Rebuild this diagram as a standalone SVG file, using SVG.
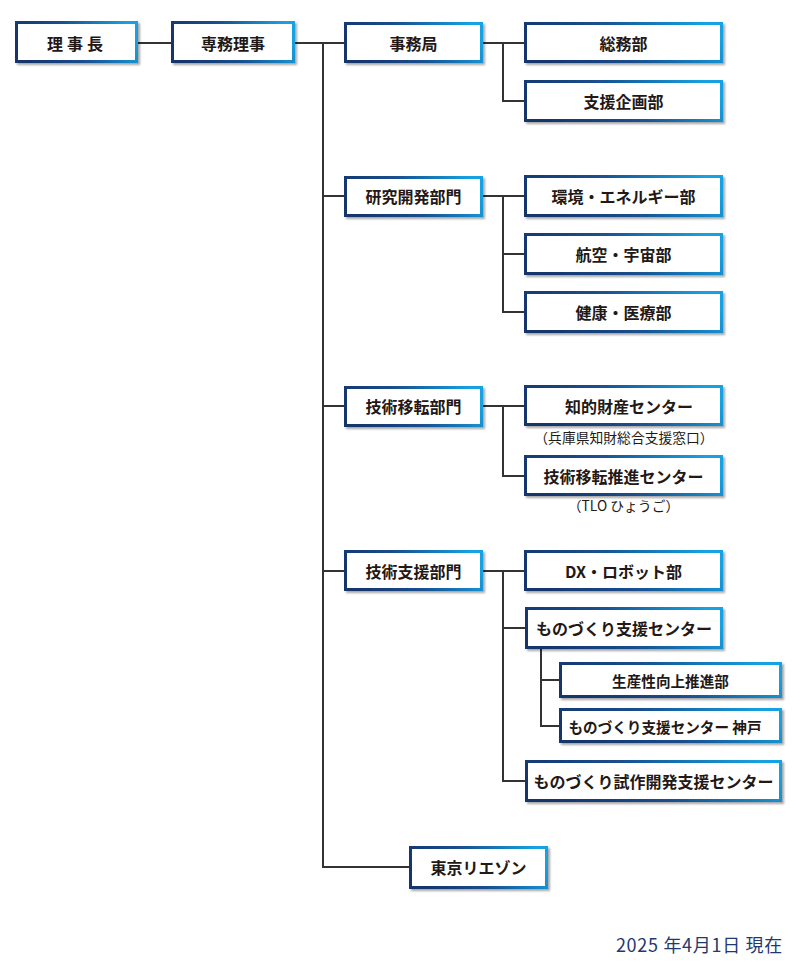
<svg xmlns="http://www.w3.org/2000/svg" width="800" height="965" viewBox="0 0 800 965">
<defs>
<linearGradient id="bd" x1="0" y1="0.6" x2="1" y2="0.4">
<stop offset="0" stop-color="#17346b"/>
<stop offset="0.45" stop-color="#1a4c8c"/>
<stop offset="1" stop-color="#12a2e2"/>
</linearGradient>
<filter id="sh" x="-10%" y="-20%" width="125%" height="150%">
<feDropShadow dx="2" dy="2" stdDeviation="1.2" flood-color="#000" flood-opacity="0.35"/>
</filter>
</defs>
<style>
.b{fill:#fff;stroke:url(#bd);stroke-width:3;filter:url(#sh)}
.t{font-family:"Noto Sans CJK JP","Noto Sans",sans-serif;font-weight:bold;font-size:16px;fill:#231815;text-anchor:middle;dominant-baseline:central}
.s{font-size:14.6px}
.n{font-family:"Noto Sans CJK JP","Noto Sans",sans-serif;font-size:13.8px;fill:#231815;text-anchor:middle}
.c{fill:none;stroke:#333;stroke-width:2}
.d{font-family:"Noto Sans CJK JP","Noto Sans",sans-serif;font-size:18px;letter-spacing:0.7px;fill:#1f3a6e;text-anchor:end}
</style>
<g id="connectors" class="c">
<path d="M138 43H171"/>
<path d="M295 43H344"/>
<path d="M323 43V867H409"/>
<path d="M323 196H344M323 406H344M323 571H344"/>
<path d="M483 43H524M503 43V101H524"/>
<path d="M483 196H524M503 196V312H524M503 254H524"/>
<path d="M483 406H524M503 406V476H524"/>
<path d="M483 571H524M503 571V781H525M503 628H525"/>
<path d="M541 649V726H559M541 680H559"/>
</g>
<g id="rijicho"><rect class="b" x="16.5" y="22.5" width="120" height="39"/><text class="t" x="77" y="43" letter-spacing="4">理事長</text></g>
<g id="senmu"><rect class="b" x="172.5" y="22.5" width="121" height="39"/><text class="t" x="233" y="43">専務理事</text></g>
<g id="jimukyoku"><rect class="b" x="345.5" y="23.5" width="136" height="38"/><text class="t" x="413.5" y="43">事務局</text></g>
<g id="somu"><rect class="b" x="525.5" y="23.5" width="196" height="38"/><text class="t" x="623.5" y="43">総務部</text></g>
<g id="shienkikaku"><rect class="b" x="525.5" y="81.5" width="196" height="39"/><text class="t" x="623.5" y="101">支援企画部</text></g>
<g id="kenkyu"><rect class="b" x="345.5" y="177.5" width="136" height="38"/><text class="t" x="413.5" y="196">研究開発部門</text></g>
<g id="kankyo"><rect class="b" x="525.5" y="176.5" width="196" height="39"/><text class="t" x="623.5" y="196">環境・エネルギー部</text></g>
<g id="koku"><rect class="b" x="525.5" y="234.5" width="196" height="39"/><text class="t" x="623.5" y="254">航空・宇宙部</text></g>
<g id="kenko"><rect class="b" x="525.5" y="292.5" width="196" height="39"/><text class="t" x="623.5" y="312">健康・医療部</text></g>
<g id="gijutsuiten"><rect class="b" x="345.5" y="387.5" width="136" height="38"/><text class="t" x="413.5" y="406">技術移転部門</text></g>
<g id="chiteki"><rect class="b" x="525.5" y="386.5" width="196" height="38"/><text class="t" x="629" y="406">知的財産センター</text><text class="n" x="624" y="443">（兵庫県知財総合支援窓口）</text></g>
<g id="tlo"><rect class="b" x="525.5" y="456.5" width="196" height="38"/><text class="t" x="623.5" y="476">技術移転推進センター</text><text class="n" x="623.5" y="511">（TLO ひょうご）</text></g>
<g id="gijutsushien"><rect class="b" x="345.5" y="551.5" width="136" height="38"/><text class="t" x="413.5" y="571">技術支援部門</text></g>
<g id="dx"><rect class="b" x="525.5" y="551.5" width="196" height="38"/><text class="t" x="623.5" y="571">DX・ロボット部</text></g>
<g id="monozukuri"><rect class="b" x="526.5" y="608.5" width="195" height="39"/><text class="t" x="624" y="628">ものづくり支援センター</text></g>
<g id="seisansei"><rect class="b" x="560.5" y="663.5" width="220" height="33"/><text class="t s" x="670.5" y="680">生産性向上推進部</text></g>
<g id="kobe"><rect class="b" x="560.5" y="709.5" width="220" height="32"/><text class="t s" x="665" y="726">ものづくり支援センター 神戸</text></g>
<g id="shisaku"><rect class="b" x="526.5" y="761.5" width="254" height="39"/><text class="t" x="653.5" y="781">ものづくり試作開発支援センター</text></g>
<g id="tokyo"><rect class="b" x="410.5" y="847.5" width="136" height="40"/><text class="t" x="478.5" y="867">東京リエゾン</text></g>
<text class="d" x="783" y="952">2025 年4月1日 現在</text>
</svg>
